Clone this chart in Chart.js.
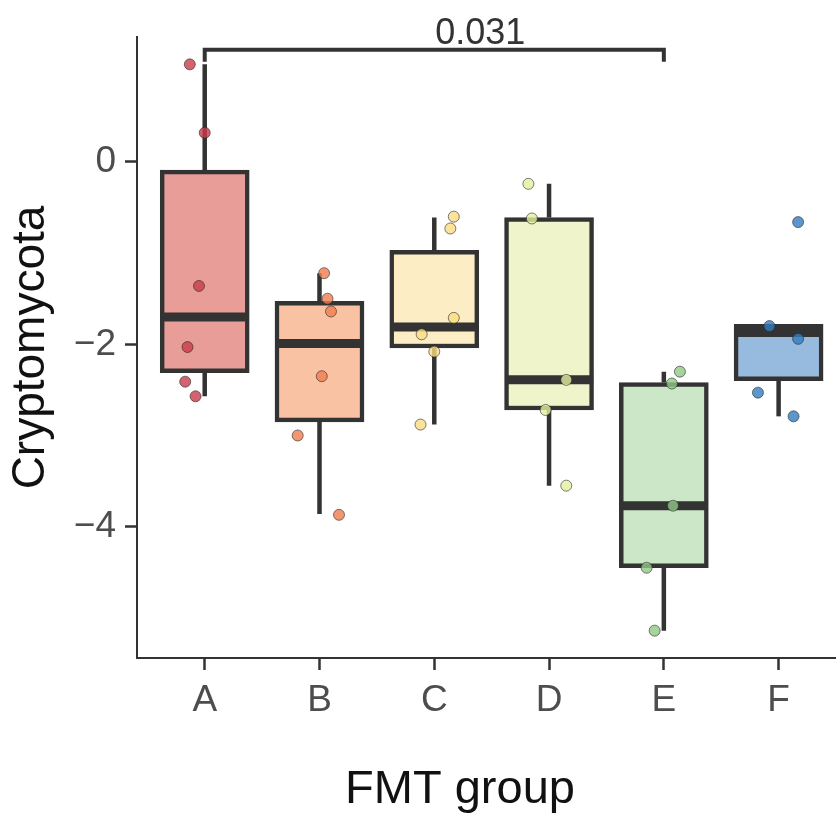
<!DOCTYPE html>
<html>
<head>
<meta charset="utf-8">
<script src="https://cdn.jsdelivr.net/npm/chart.js@4.4.1/dist/chart.umd.min.js"></script>
<style>
  html, body { margin: 0; padding: 0; background: #fff; }
</style>
</head>
<body>
<canvas id="grafico" width="836" height="818"></canvas>
<script>
// Datos
const grupos = ['A', 'B', 'C', 'D', 'E', 'F'];
const cuartil1 = [-2.31, -2.85, -2.04, -2.72, -4.45, -2.40];
const mediana = [-1.70, -1.99, -1.81, -2.39, -3.77, -1.87];
const cuartil3 = [-0.09, -1.53, -0.97, -0.61, -2.42, -1.78];
const bigoteMin = [-2.57, -3.86, -2.88, -3.55, -5.14, -2.79];
const bigoteMax = [1.07, -1.22, -0.61, -0.24, -2.30, -1.78];

// Puntos individuales por grupo y su desplazamiento horizontal (jitter)
const valores = [
    [1.07, 0.32, -1.36, -2.03, -2.41, -2.57],
    [-1.22, -1.50, -1.64, -2.35, -3.00, -3.87],
    [-0.60, -0.73, -1.71, -1.89, -2.08, -2.88],
    [-0.24, -0.62, -2.39, -2.72, -3.55],
    [-2.30, -2.43, -3.77, -4.45, -5.14],
    [-0.66, -1.80, -1.94, -2.53, -2.79]
];
const jitter = [
    [-0.13, 0.00, -0.05, -0.15, -0.17, -0.08],
    [0.04, 0.07, 0.10, 0.02, -0.19, 0.17],
    [0.17, 0.14, 0.17, -0.11, 0.00, -0.12],
    [-0.18, -0.15, 0.15, -0.03, 0.15],
    [0.14, 0.07, 0.08, -0.15, -0.08],
    [0.17, -0.08, 0.17, -0.18, 0.13]
];
const ticksY = [0, -2, -4];

// Comparación significativa
const comparacion = ['A', 'E'];
const pValor = '0.031';
const alturaCorchete = 1.23;
const posEtiqueta = 2.4;

const rellenos = ['#E89D98', '#F9C3A3', '#FDEDC5', '#F0F4CA', '#CCE6C8', '#97BADF'];
const colorPuntos = ['rgba(200,60,75,0.8)', 'rgba(240,125,80,0.8)', 'rgba(250,220,130,0.8)',
    'rgba(228,240,158,0.8)', 'rgba(145,200,135,0.8)', 'rgba(50,125,190,0.8)'];

const fuente = "'Liberation Sans', Arial, sans-serif";

// Preparar puntos
const puntos = [];
const coloresP = [];
valores.forEach((lista, i) => {
    lista.forEach((v, j) => {
        puntos.push({ x: i + jitter[i][j], y: v });
        coloresP.push(colorPuntos[i]);
    });
});

const cajasPlugin = {
    id: 'cajas',
    afterDatasetDraw(chart, args) {
        if (args.index !== 1) return;
        const ctx = chart.ctx;
        const x = chart.scales.x;
        const y = chart.scales.y;
        ctx.save();
        ctx.strokeStyle = '#333333';
        ctx.lineCap = 'butt';
        grupos.forEach((g, i) => {
            const cx = x.getPixelForValue(i);
            ctx.lineWidth = 4.5;
            ctx.beginPath();
            ctx.moveTo(cx, y.getPixelForValue(cuartil3[i]));
            ctx.lineTo(cx, y.getPixelForValue(bigoteMax[i]));
            ctx.moveTo(cx, y.getPixelForValue(cuartil1[i]));
            ctx.lineTo(cx, y.getPixelForValue(bigoteMin[i]));
            ctx.stroke();
            const ym = y.getPixelForValue(mediana[i]);
            ctx.lineWidth = 9;
            ctx.beginPath();
            ctx.moveTo(cx - 44, ym);
            ctx.lineTo(cx + 44, ym);
            ctx.stroke();
        });
        ctx.restore();
    }
};

const textosPlugin = {
    id: 'textos',
    afterDraw(chart) {
        const ctx = chart.ctx;
        const x = chart.scales.x;
        const y = chart.scales.y;
        const x1 = x.getPixelForValue(grupos.indexOf(comparacion[0]));
        const x2 = x.getPixelForValue(grupos.indexOf(comparacion[1]));
        const yc = y.getPixelForValue(alturaCorchete);
        ctx.save();
        // corchete de significancia
        ctx.strokeStyle = '#333333';
        ctx.lineWidth = 4;
        ctx.beginPath();
        ctx.moveTo(x1, yc + 12);
        ctx.lineTo(x1, yc);
        ctx.lineTo(x2, yc);
        ctx.lineTo(x2, yc + 12);
        ctx.stroke();
        ctx.fillStyle = '#333333';
        ctx.font = '36px ' + fuente;
        ctx.textAlign = 'center';
        ctx.textBaseline = 'alphabetic';
        ctx.fillText(pValor, x.getPixelForValue(posEtiqueta), yc - 6);
        // título del eje x
        ctx.fillStyle = '#111111';
        ctx.font = '47px ' + fuente;
        ctx.fillText('FMT group', 460, 803);
        ctx.restore();
    }
};

new Chart(document.getElementById('grafico'), {
    type: 'scatter',
    data: {
        datasets: [{
            type: 'scatter',
            data: puntos,
            backgroundColor: coloresP,
            borderColor: 'rgba(40,40,40,0.6)',
            borderWidth: 1,
            pointRadius: 5.5,
            order: 0
        }, {
            type: 'bar',
            data: grupos.map((g, i) => ({ x: i, y: [cuartil1[i], cuartil3[i]] })),
            backgroundColor: rellenos,
            borderColor: '#333333',
            borderWidth: 4.5,
            borderSkipped: false,
            barThickness: 89,
            order: 1
        }]
    },
    options: {
        responsive: false,
        animation: false,
        layout: { autoPadding: false, padding: { top: 37, right: 0, bottom: 0, left: 0 } },
        plugins: {
            legend: { display: false },
            tooltip: { enabled: false }
        },
        scales: {
            x: {
                type: 'linear',
                min: -0.59,
                max: 5.5,
                offset: false,
                afterFit: (s) => { s.height = 160; s.paddingLeft = 0; s.paddingRight = 0; },
                afterBuildTicks: (s) => { s.ticks = grupos.map((g, i) => ({ value: i })); },
                grid: { display: true, offset: false, drawOnChartArea: false, drawTicks: true, tickLength: 12, tickWidth: 2.5, tickColor: '#333333' },
                border: { display: true, color: '#333333', width: 2 },
                ticks: {
                    color: '#4D4D4D',
                    font: { family: fuente, size: 37 },
                    padding: 9,
                    maxRotation: 0,
                    autoSkip: false,
                    callback: (v, i) => grupos[i]
                }
            },
            y: {
                type: 'linear',
                min: -5.44,
                max: 1.37,
                afterFit: (s) => { s.width = 137; },
                afterBuildTicks: (s) => { s.ticks = ticksY.map(v => ({ value: v })); },
                grid: { display: true, drawOnChartArea: false, drawTicks: true, tickLength: 12, tickWidth: 2.5, tickColor: '#333333' },
                border: { display: true, color: '#333333', width: 2 },
                ticks: {
                    color: '#4D4D4D',
                    font: { family: fuente, size: 37 },
                    padding: 9,
                    callback: (v) => v < 0 ? '\u2212' + Math.abs(v) : String(v)
                },
                title: {
                    display: true,
                    text: 'Cryptomycota',
                    color: '#111111',
                    font: { family: fuente, size: 46 },
                    padding: { top: 4, bottom: 0 }
                }
            }
        }
    },
    plugins: [cajasPlugin, textosPlugin]
});
</script>
</body>
</html>
